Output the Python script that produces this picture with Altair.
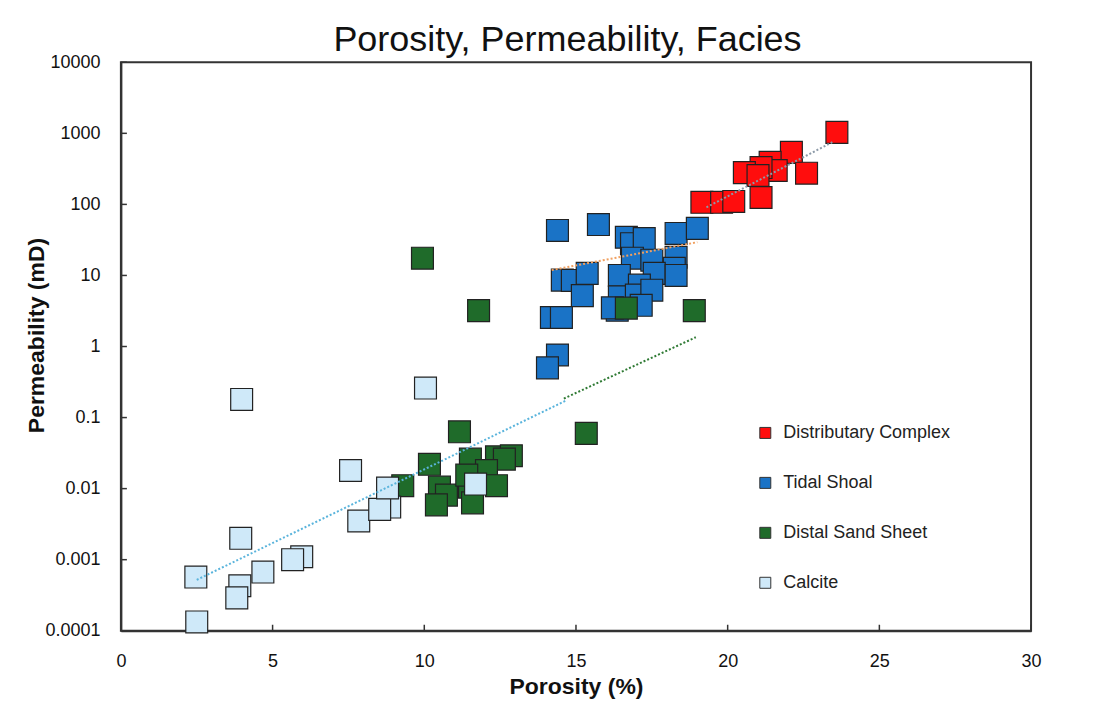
import altair as alt
import pandas as pd

facies = ["Distributary Complex", "Tidal Shoal", "Distal Sand Sheet", "Calcite"]
facies_colors = ["#ff0d0d", "#1a73c6", "#1f6b2a", "#cfe9f9"]
chart_title = ["Porosity, Permeability, Facies"]

# Distributary Complex
dc_phi = [23.6, 22.1, 22.6, 21.4, 21.6, 21.1, 20.55, 21.0, 21.1, 19.15, 19.8, 20.2]
dc_k = [1030, 540, 275, 390, 300, 330, 280, 255, 125, 107, 107, 110]

# Tidal Shoal
ts_phi = [14.39, 15.74, 16.66, 16.83, 17.25, 18.3, 19.0, 16.86, 17.5, 18.3, 18.24,
          16.43, 17.58, 18.3, 14.55, 14.88, 15.37, 15.21, 17.09, 16.43, 16.99, 17.5,
          16.36, 17.15, 16.2, 14.19, 14.52, 14.39, 14.06]
ts_k = [43, 52, 34.5, 28, 33, 39, 46, 17.5, 16.4, 18, 12.6,
        10, 10.7, 10, 8.6, 8.5, 10.7, 5.2, 7.3, 5.0, 5.3, 6.2,
        3.24, 3.8, 3.5, 2.56, 2.56, 0.76, 0.5]

# Distal Sand Sheet
ds_phi = [9.94, 11.79, 16.66, 18.9, 15.34, 11.16, 10.17, 9.29, 11.52, 12.38, 12.87,
          12.64, 12.05, 12.38, 10.5, 10.73, 10.4, 11.49, 11.59, 11.4]
ds_k = [17.5, 3.2, 3.47, 3.2, 0.06, 0.063, 0.022, 0.011, 0.026, 0.028, 0.029,
        0.026, 0.018, 0.011, 0.0105, 0.0081, 0.0059, 0.0105, 0.0063, 0.0155]

# Calcite
ca_phi = [2.47, 2.5, 3.98, 3.95, 3.92, 3.82, 4.68, 5.96, 5.66, 7.57, 7.84, 8.86,
          8.53, 8.79, 10.04, 11.69]
ca_k = [0.00057, 0.000133, 0.18, 0.002, 0.00043, 0.00029, 0.00067, 0.0011, 0.001,
        0.018, 0.0035, 0.0055, 0.0051, 0.0102, 0.26, 0.0116]

# Trend lines (end points)
tl_names = ["Distal Sand Sheet", "Distal Sand Sheet", "Calcite", "Calcite",
            "Tidal Shoal", "Tidal Shoal", "Distributary Complex", "Distributary Complex"]
tl_phi = [14.6, 18.95, 2.5, 14.7, 14.2, 19.0, 19.3, 23.45]
tl_k = [0.185, 1.35, 0.00052, 0.176, 11.9, 29.4, 91, 750]
tl_colors = ["#2f7a34", "#5ab4dc", "#f0a060", "#8c9aa8"]
tl_domain = ["Distal Sand Sheet", "Calcite", "Tidal Shoal", "Distributary Complex"]

x_ticks = [0, 5, 10, 15, 20, 25, 30]
y_ticks = [0.0001, 0.001, 0.01, 0.1, 1, 10, 100, 1000, 10000]

rows = []
for name, xs, ys in [(facies[0], dc_phi, dc_k), (facies[1], ts_phi, ts_k),
                     (facies[2], ds_phi, ds_k), (facies[3], ca_phi, ca_k)]:
    rows += [{"facies": name, "phi": a, "k": b} for a, b in zip(xs, ys)]
df = pd.DataFrame(rows)
tl = pd.DataFrame({"line": tl_names, "phi": tl_phi, "k": tl_k})
xt = pd.DataFrame({"t": x_ticks})
yt = pd.DataFrame({"t": y_ticks})
tt = pd.DataFrame({"title": chart_title})

W, H = 911, 569
FONT = "Liberation Sans"
xsc = alt.Scale(domain=[0, 30], nice=False, zero=False)
ysc = alt.Scale(type="log", domain=[0.0001, 10000], nice=False)

points = alt.Chart(df).mark_square(size=480, stroke="#222222", strokeWidth=1.2, opacity=1).encode(
    x=alt.X("phi:Q", scale=xsc, axis=alt.Axis(
        values=x_ticks, title="Porosity (%)", ticks=False, tickSize=0, labelPadding=22,
        labelFlush=False, labelFontSize=18, labelFont=FONT, labelColor="#111111", grid=False,
        titleFont=FONT, titleFontSize=23, titleFontWeight="bold", titleColor="#111111",
        titleY=63, titleBaseline="alphabetic", domainColor="#333333", domainWidth=2)),
    y=alt.Y("k:Q", scale=ysc, axis=alt.Axis(
        values=y_ticks, format="~g", title="Permeability (mD)", ticks=False, tickSize=0,
        labelPadding=21, labelFlush=False, labelFontSize=18, labelFont=FONT,
        labelColor="#111111", grid=False,
        titleFont=FONT, titleFontSize=23, titleFontWeight="bold", titleColor="#111111",
        titleX=-77, titleY=273, titleAlign="center", titleBaseline="alphabetic",
        domainColor="#333333", domainWidth=2)),
    color=alt.Color("facies:N", scale=alt.Scale(domain=facies, range=facies_colors),
                    legend=alt.Legend(title=None, orient="none", legendX=636, legendY=362,
                                      symbolType="square", symbolSize=121,
                                      symbolStrokeColor="#333333", symbolStrokeWidth=1,
                                      symbolOpacity=1, labelFont=FONT, labelFontSize=18,
                                      labelColor="#222222", labelOffset=9, rowPadding=32,
                                      labelLimit=400, padding=0)),
)

lines = alt.Chart(tl).mark_line(strokeDash=[2, 2], strokeWidth=2).encode(
    x=alt.X("phi:Q", scale=xsc),
    y=alt.Y("k:Q", scale=ysc),
    stroke=alt.Stroke("line:N", scale=alt.Scale(domain=tl_domain, range=tl_colors), legend=None),
    detail="line:N",
)

xticks = alt.Chart(xt).mark_rule(color="#333333", strokeWidth=1.5).encode(
    x=alt.X("t:Q", scale=xsc), y=alt.value(H), y2=alt.value(H - 6))
yticks = alt.Chart(yt).mark_rule(color="#333333", strokeWidth=1.5).encode(
    y=alt.Y("t:Q", scale=ysc), x=alt.value(0), x2=alt.value(6))

title_text = alt.Chart(tt).mark_text(font=FONT, fontSize=36, color="#111111",
                                     align="center", baseline="alphabetic").encode(
    text="title:N", x=alt.value(447), y=alt.value(-11))

chart = alt.layer(points, lines, xticks, yticks, title_text).properties(
    width=W, height=H,
    padding={"left": 113, "top": 54, "right": 60, "bottom": 70},
    autosize=alt.AutoSizeParams(type="none"),
    background="white",
).configure_view(stroke="#333333", strokeWidth=2)

chart.save("out.html", embed_options={"renderer": "svg", "actions": False})
